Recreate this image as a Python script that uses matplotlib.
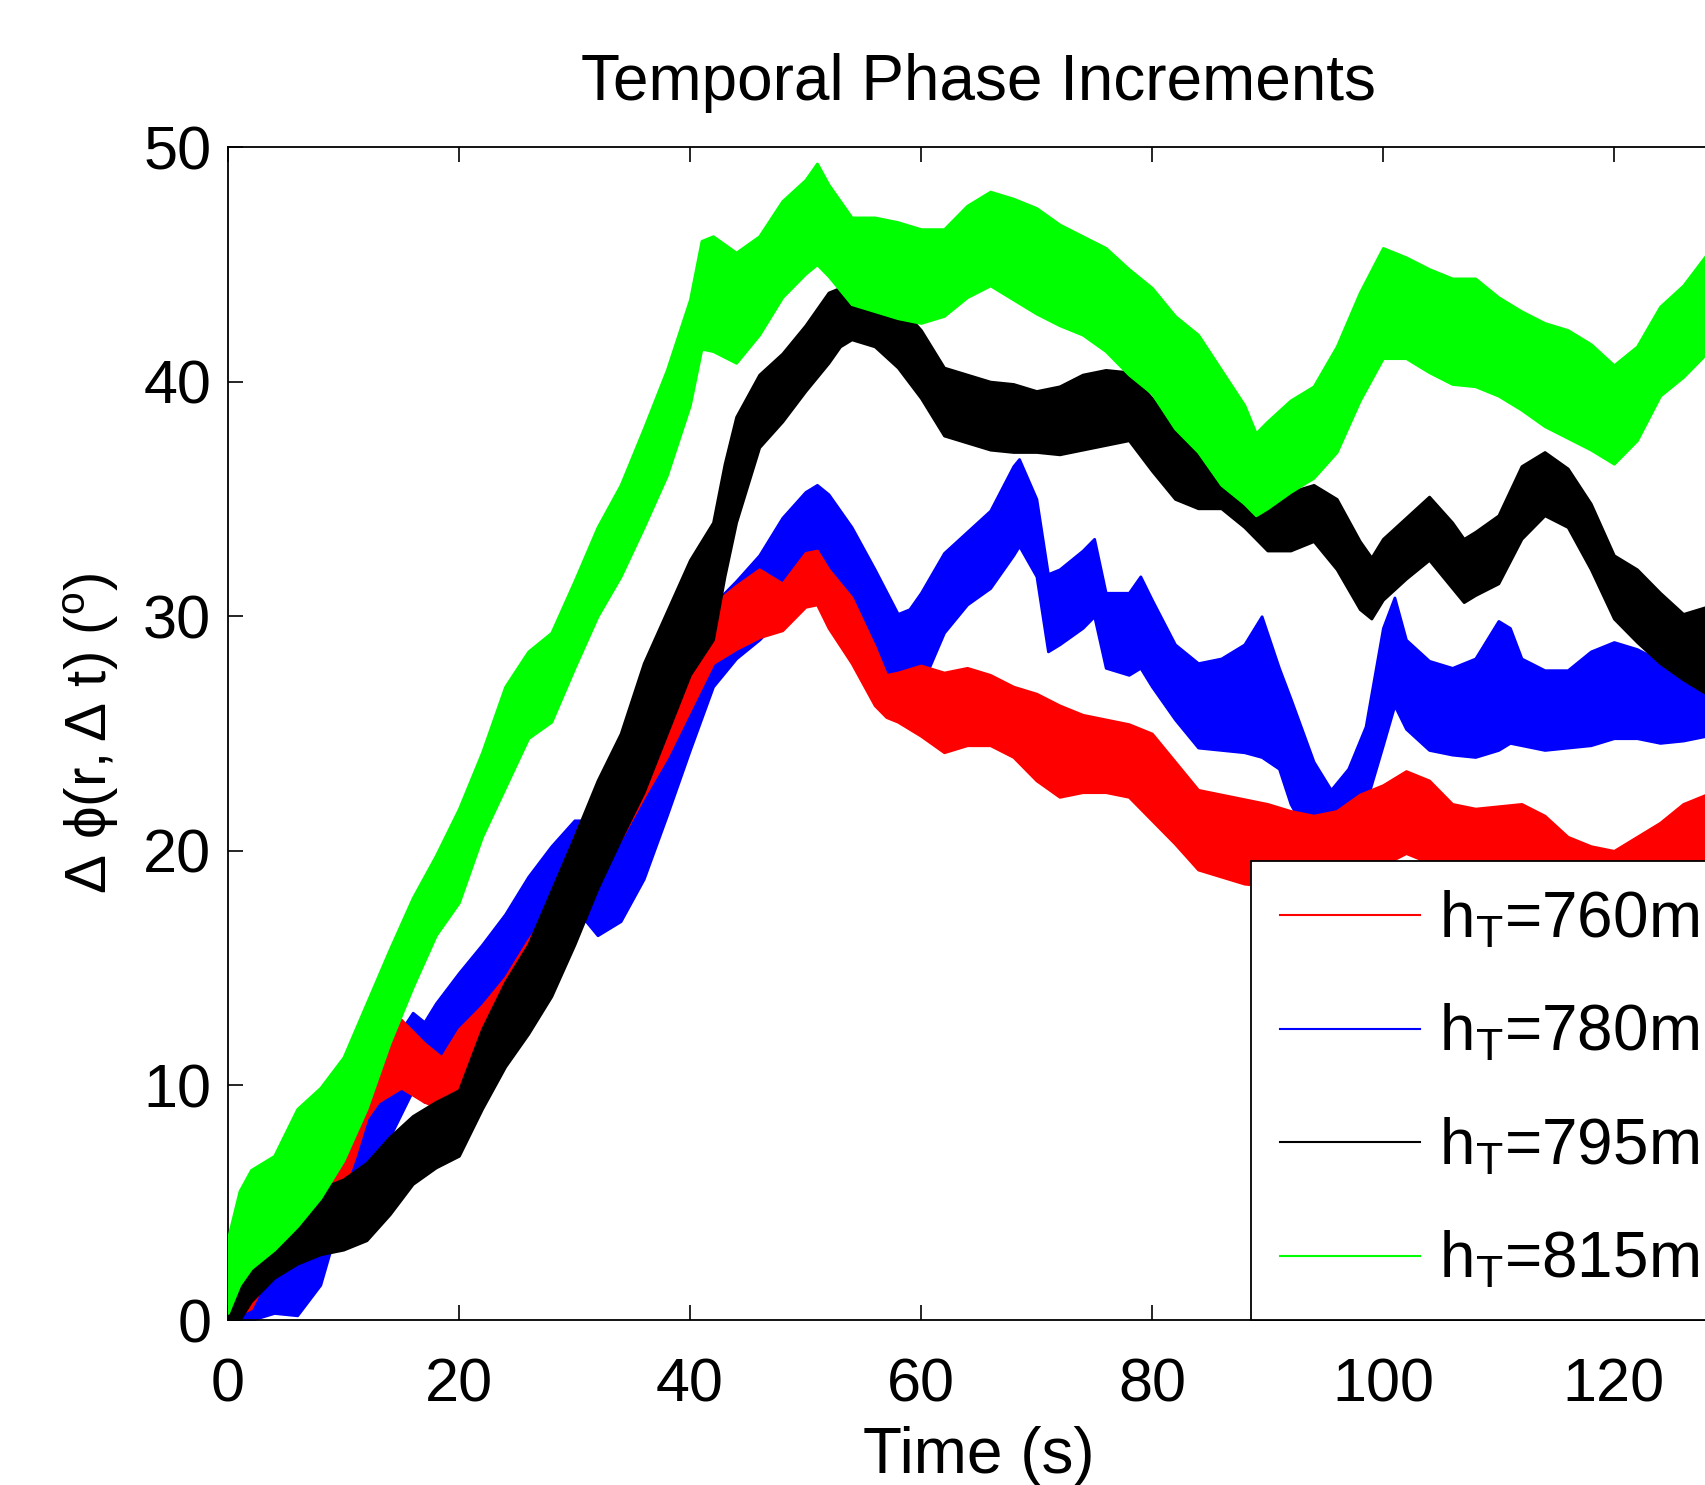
import numpy as np
import matplotlib
matplotlib.use('Agg')
import matplotlib.pyplot as plt
from matplotlib.lines import Line2D

plt.rcParams['font.family'] = ['Liberation Sans', 'DejaVu Sans']
plt.rcParams['mathtext.fontset'] = 'custom'
plt.rcParams['mathtext.rm'] = 'Liberation Sans'
plt.rcParams['mathtext.it'] = 'Liberation Sans'
plt.rcParams['mathtext.default'] = 'regular'

# band envelopes (lower / upper)
t_red = [0, 2, 4, 6, 8, 9, 10, 11, 12, 13, 15, 17, 18.5, 20, 22, 24, 26, 28, 30, 31, 32, 34, 36, 38,
         40, 42, 44, 46, 48, 50, 51, 52, 54, 56, 57, 58, 60, 62, 64, 66, 68, 70, 72, 74, 76, 78,
         80, 82, 84, 86, 88, 90, 92, 94, 96, 98, 100, 102, 104, 106, 108, 110, 112, 114, 116, 118,
         120, 122, 124, 126, 128]
red_lo = [0.0, 0.5, 2.5, 4.2, 4.6, 5.0, 5.6, 7.0, 8.6, 9.3, 9.9, 9.3, 9.0, 9.3, 10.3, 11.6, 12.9, 14.3,
          17.4, 18.6, 19.4, 20.5, 22.3, 24.0, 26.0, 28.0, 28.6, 29.1, 29.4, 30.4, 30.5, 29.5, 28.0, 26.2,
          25.7, 25.5, 24.9, 24.2, 24.5, 24.5, 24.0, 23.0, 22.3, 22.5, 22.5, 22.3, 21.3, 20.3, 19.2, 18.9,
          18.6, 18.5, 18.2, 18.0, 18.3, 19.0, 19.4, 19.9, 19.5, 18.5, 18.3, 18.4, 18.5, 18.2, 17.3, 17.0,
          16.8, 17.0, 17.6, 18.4, 18.8]
red_hi = [1.0, 2.0, 4.5, 5.8, 6.3, 7.0, 8.0, 10.0, 11.6, 12.7, 12.8, 11.8, 11.2, 12.4, 13.4, 14.6, 16.2,
          17.6, 20.6, 21.7, 22.3, 23.4, 25.0, 27.0, 29.5, 30.5, 31.3, 32.0, 31.4, 32.7, 32.8, 32.0, 30.8,
          28.7, 27.5, 27.6, 27.9, 27.6, 27.8, 27.5, 27.0, 26.7, 26.2, 25.8, 25.6, 25.4, 25.0, 23.8, 22.6,
          22.4, 22.2, 22.0, 21.7, 21.5, 21.7, 22.4, 22.8, 23.4, 23.0, 22.0, 21.8, 21.9, 22.0, 21.5, 20.6,
          20.2, 20.0, 20.6, 21.2, 22.0, 22.4]

t_blue = [0, 2, 4, 6, 8, 9, 10, 12, 14, 16, 17, 18, 20, 22, 24, 26, 28, 30, 31, 32, 34, 36, 38, 40, 42,
          44, 46, 48, 50, 51, 52, 54, 56, 58, 59, 60, 62, 64, 66, 68, 68.5, 70, 71, 72, 74, 75, 76, 78,
          79, 80, 82, 84, 86, 88, 89.5, 91, 92, 94, 95.5, 97, 98.5, 100, 101, 102, 104, 106, 108, 110,
          111, 112, 114, 116, 118, 120, 122, 124, 126, 128]
blue_lo = [0.0, 0.0, 0.3, 0.2, 1.5, 3.2, 4.5, 5.8, 7.8, 9.8, 9.3, 9.6, 11.3, 12.8, 13.8, 15.2, 16.5,
           17.2, 17.0, 16.4, 17.0, 18.8, 21.5, 24.3, 27.0, 28.2, 29.0, 30.0, 31.3, 31.8, 31.4, 30.3,
           28.0, 26.4, 26.3, 27.0, 29.3, 30.5, 31.2, 32.6, 33.0, 31.7, 28.5, 28.8, 29.5, 30.0, 27.8,
           27.5, 27.8, 27.0, 25.6, 24.4, 24.3, 24.2, 24.0, 23.5, 22.0, 20.2, 19.5, 20.5, 22.0, 24.5,
           26.2, 25.2, 24.3, 24.1, 24.0, 24.3, 24.6, 24.5, 24.3, 24.4, 24.5, 24.8, 24.8, 24.6, 24.7, 24.9]
blue_hi = [1.0, 2.0, 3.0, 2.9, 4.5, 7.0, 7.8, 9.6, 11.6, 13.1, 12.7, 13.5, 14.8, 16.0, 17.3, 18.9, 20.2,
           21.3, 21.3, 20.0, 21.5, 23.8, 26.0, 28.5, 30.5, 31.5, 32.6, 34.2, 35.3, 35.6, 35.2, 33.8,
           32.0, 30.1, 30.3, 31.0, 32.7, 33.6, 34.5, 36.4, 36.7, 35.0, 31.8, 32.0, 32.8, 33.3, 31.0,
           31.0, 31.7, 30.7, 28.8, 28.0, 28.2, 28.8, 30.0, 27.8, 26.5, 23.8, 22.6, 23.5, 25.3, 29.5,
           30.8, 29.0, 28.1, 27.8, 28.2, 29.8, 29.5, 28.2, 27.7, 27.7, 28.5, 28.9, 28.6, 28.1, 28.0, 28.4]

t_black = [0, 1, 2, 4, 6, 8, 10, 12, 14, 16, 18, 20, 22, 24, 26, 28, 30, 32, 34, 36, 38, 40, 42, 43,
           44, 46, 48, 50, 52, 53, 54, 56, 58, 60, 62, 64, 66, 68, 70, 72, 74, 76, 78, 80, 82, 84, 86,
           88, 90, 92, 94, 96, 98, 99, 100, 102, 104, 106, 107, 108, 110, 112, 114, 116, 118, 120, 122,
           124, 126, 128]
black_lo = [0.0, 0.0, 0.8, 1.8, 2.4, 2.8, 3.0, 3.4, 4.5, 5.8, 6.5, 7.0, 9.0, 10.8, 12.2, 13.8, 16.0,
            18.4, 20.5, 22.5, 25.0, 27.5, 29.0, 31.7, 34.0, 37.2, 38.3, 39.6, 40.8, 41.5, 41.8, 41.5,
            40.6, 39.3, 37.7, 37.4, 37.1, 37.0, 37.0, 36.9, 37.1, 37.3, 37.5, 36.2, 35.0, 34.6, 34.6,
            33.8, 32.8, 32.8, 33.2, 32.0, 30.3, 29.9, 30.7, 31.6, 32.4, 31.2, 30.6, 30.9, 31.4, 33.3,
            34.3, 33.8, 32.0, 29.9, 28.9, 28.0, 27.3, 26.7]
black_hi = [1.0, 2.2, 2.8, 4.6, 5.2, 5.6, 6.0, 6.7, 7.8, 8.7, 9.3, 9.8, 12.4, 14.4, 16.0, 18.3, 20.6,
            23.0, 25.0, 28.0, 30.2, 32.4, 34.0, 36.5, 38.5, 40.3, 41.2, 42.4, 43.8, 44.0, 43.5, 43.0,
            43.3, 42.2, 40.6, 40.3, 40.0, 39.9, 39.6, 39.8, 40.3, 40.5, 40.4, 39.3, 38.0, 37.2, 36.8,
            36.0, 35.1, 35.3, 35.6, 35.0, 33.2, 32.5, 33.3, 34.2, 35.1, 34.0, 33.3, 33.6, 34.3, 36.4,
            37.0, 36.3, 34.8, 32.6, 32.0, 31.0, 30.1, 30.4]

t_green = [0, 1, 2, 4, 6, 8, 10, 12, 14, 16, 18, 20, 22, 24, 26, 28, 30, 32, 34, 36, 38, 40, 41, 42,
           44, 46, 48, 50, 51, 52, 54, 56, 58, 60, 62, 64, 66, 68, 70, 72, 74, 76, 78, 80, 82, 84, 86,
           88, 89, 90, 92, 94, 96, 98, 100, 102, 104, 106, 108, 110, 112, 114, 116, 118, 120, 122, 124,
           126, 128]
green_lo = [0.3, 1.5, 2.2, 3.0, 4.0, 5.2, 6.8, 9.0, 11.8, 14.2, 16.4, 17.8, 20.6, 22.7, 24.8, 25.5,
            27.8, 30.0, 31.7, 33.8, 36.0, 39.0, 41.4, 41.3, 40.8, 42.0, 43.6, 44.6, 45.0, 44.5, 43.3,
            43.0, 42.7, 42.5, 42.8, 43.6, 44.1, 43.5, 42.9, 42.4, 42.0, 41.3, 40.3, 39.5, 38.0, 37.0,
            35.6, 34.8, 34.3, 34.6, 35.3, 35.9, 37.0, 39.2, 41.0, 41.0, 40.4, 39.9, 39.8, 39.4, 38.8,
            38.1, 37.6, 37.1, 36.5, 37.5, 39.4, 40.2, 41.2]
green_hi = [3.5, 5.5, 6.4, 7.0, 9.0, 9.9, 11.2, 13.5, 15.8, 18.0, 19.8, 21.8, 24.2, 27.0, 28.5, 29.3,
            31.5, 33.8, 35.6, 38.0, 40.5, 43.5, 46.0, 46.2, 45.5, 46.2, 47.7, 48.6, 49.3, 48.4, 47.0,
            47.0, 46.8, 46.5, 46.5, 47.5, 48.1, 47.8, 47.4, 46.7, 46.2, 45.7, 44.8, 44.0, 42.8, 42.0,
            40.5, 39.0, 37.8, 38.3, 39.2, 39.8, 41.5, 43.8, 45.7, 45.3, 44.8, 44.4, 44.4, 43.6, 43.0,
            42.5, 42.2, 41.6, 40.7, 41.5, 43.2, 44.1, 45.4]

labels = ['h$_T$=760m', 'h$_T$=780m', 'h$_T$=795m', 'h$_T$=815m']
colors = ['#ff0000', '#0000ff', '#000000', '#00ff00']

fig = plt.figure(figsize=(17.06, 14.85), dpi=100)
ax = fig.add_axes([0.1336, 0.1111, 0.8801, 0.7899])

# drawing order: blue under red, then black, green on top
bands = [(t_blue, blue_lo, blue_hi, colors[1], 1),
         (t_red, red_lo, red_hi, colors[0], 2),
         (t_black, black_lo, black_hi, colors[2], 3),
         (t_green, green_lo, green_hi, colors[3], 4)]
for t, lo, hi, c, z in bands:
    ax.fill_between(t, lo, hi, color=c, linewidth=2, edgecolor=c, zorder=z)

ax.set_xlim(0, 130)
ax.set_ylim(0, 50)
ax.set_xticks(np.arange(0, 121, 20))
ax.set_yticks(np.arange(0, 51, 10))
ax.tick_params(direction='in', length=11, width=1.2, labelsize=44, top=True, right=True)
ax.tick_params(axis='x', pad=27)
ax.tick_params(axis='y', pad=12)
for s in ax.spines.values():
    s.set_linewidth(1.3)

ax.set_title('Temporal Phase Increments', fontsize=46, pad=34)
ax.set_xlabel('Time (s)', fontsize=46, labelpad=8)
ax.set_ylabel(r'$\Delta\ \phi(r,\Delta\ t)\ (^o)$', fontsize=42, labelpad=16)

handles = [Line2D([0], [0], color=c, linewidth=1.5) for c in colors]
leg = ax.legend(handles, labels, loc='lower left', bbox_to_anchor=(0.6813, 0.0),
                fontsize=46, frameon=True, fancybox=False, framealpha=1,
                edgecolor='black', handlelength=2.2, handletextpad=0.3,
                borderpad=0.45, labelspacing=0.82, borderaxespad=0)
leg.get_frame().set_linewidth(1.3)
leg.set_zorder(10)

fig.savefig('out.png', dpi=100)
